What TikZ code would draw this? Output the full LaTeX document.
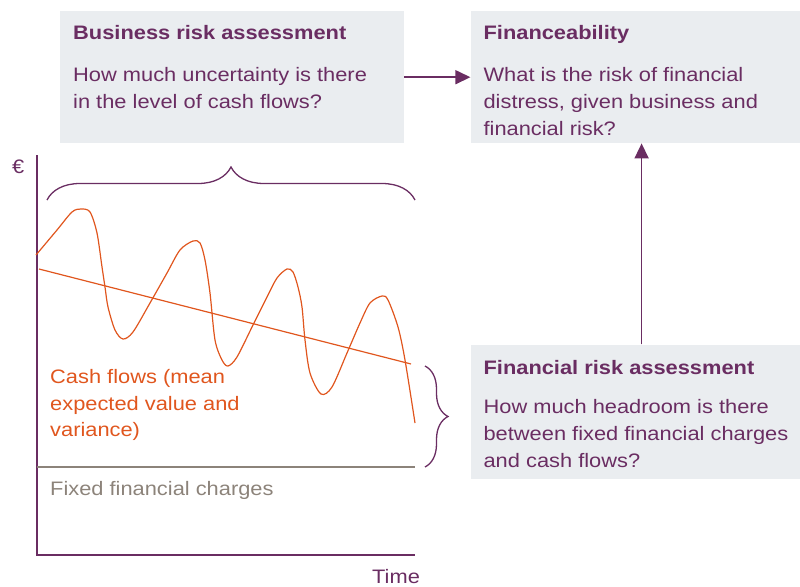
\documentclass[tikz,border=0pt]{standalone}
\usepackage{fontspec}
\setmainfont{Liberation Sans}[FakeStretch=1.12]
\usepackage{tikz}
\usetikzlibrary{positioning,arrows.meta,decorations.pathreplacing}

\definecolor{plum}{RGB}{106,45,98}
\definecolor{panelgrey}{RGB}{234,237,240}
\definecolor{cashorange}{RGB}{224,86,30}
\definecolor{chargegrey}{RGB}{140,131,122}

\begin{document}
\begin{tikzpicture}[
    x=1pt, y=-1pt,
    node distance=66pt,
    font=\fontsize{19.5}{26.7}\selectfont,
    panel/.style={fill=panelgrey, inner sep=0pt, minimum width=330pt, minimum height=132pt},
    paneltext/.style={anchor=north west, align=left, inner sep=0pt, text=plum},
    label/.style={inner sep=0pt, align=left},
    arrow/.style={-{Triangle[length=15pt,width=14pt]}, draw=plum, fill=plum, line width=1.6pt},
    curly/.style={decorate, decoration={brace, amplitude=#1}, draw=plum, line width=1.3pt}
]
\useasboundingbox (0,0) rectangle (800,586);

% the three question panels
\node[panel, anchor=north west, minimum width=344pt] (biz) at (60,11) {};
\node[panel, right=of biz] (fin) {};
\node[panel, below=201pt of fin, minimum height=134pt] (frisk) {};

\node[paneltext] (biztext) at ([xshift=13pt,yshift=-14pt]biz.north west)
    {\textbf{Business risk assessment}\\[15.8pt]
     How much uncertainty is there\\in the level of cash flows?};
\node[paneltext] (fintext) at ([xshift=13pt,yshift=-14pt]fin.north west)
    {\textbf{Financeability}\\[15.8pt]
     What is the risk of financial\\distress, given business and\\financial risk?};
\node[paneltext] (frisktext) at ([xshift=13pt,yshift=-16pt]frisk.north west)
    {\textbf{Financial risk assessment}\\[12.3pt]
     How much headroom is there\\between fixed financial charges\\and cash flows?};

\draw[arrow] (biz.east) -- (fin.west);
\draw[arrow] ([xshift=6pt]frisk.north) -- ([xshift=6pt]fin.south);

% chart
\draw[plum, line width=1.5pt] (37,155) |- (415,555);
\draw[chargegrey, line width=1.3pt] (37,467) -- (415,467);
\draw[cashorange, line width=1.2pt] (39,269) -- (411,364);
\draw[cashorange, line width=1.2pt] plot[smooth, tension=0.5] coordinates {
    (36,255) (57,230) (72,212) (81,209) (90,212) (97,233) (102,267) (105,287)
    (108,307) (115,330) (123,339) (133,332) (150,303) (167,273) (180,250)
    (193,241) (200,243) (205,260) (210,293) (215,340) (222,360) (228,366)
    (237,357) (253,325) (267,297) (277,278) (287,269) (293,272) (298,287)
    (302,307) (305,340) (310,373) (321,394) (332,387) (347,353) (360,323)
    (370,303) (382,296) (388,300) (398,327) (405,360) (415,423)};

\draw[curly=33pt] (47,200) -- (415,200);
\draw[curly=23pt] (425,366) -- (425,467);

\node[label, anchor=base west, text=plum] (euro) at (12,173) {€};
\node[label, anchor=base west, text=plum] (time) at (372,583) {Time};
\node[label, anchor=north west, text=cashorange] (cashlabel) at (50,369)
    {Cash flows (mean\\expected value and\\variance)};
\node[label, anchor=base west, text=chargegrey] (chargelabel) at (50,495)
    {Fixed financial charges};

\end{tikzpicture}
\end{document}
